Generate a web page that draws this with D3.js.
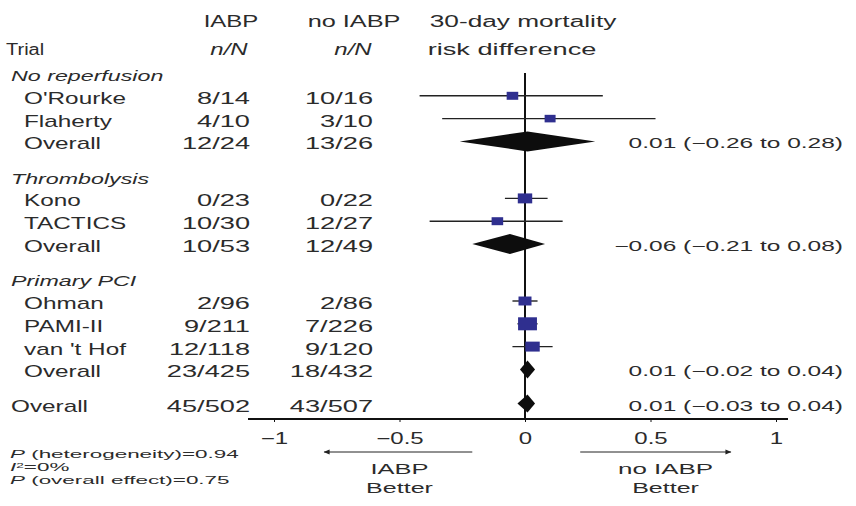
<!DOCTYPE html>
<html><head><meta charset="utf-8">
<script src="https://cdn.jsdelivr.net/npm/d3@7"></script>
<style>
html,body{margin:0;padding:0;background:#fff;}
svg text{font-family:"Liberation Sans",Arial,sans-serif;fill:#2b2b2b;}
</style></head>
<body><svg id="c" width="856" height="506"></svg>
<script>
// ---- data ----
const groupNames = ["No reperfusion", "Thrombolysis", "Primary PCI"];
const rowLabels  = ["O'Rourke", "Flaherty", "Overall", "Kono", "TACTICS", "Overall", "Ohman", "PAMI-II", "van 't Hof", "Overall", "Overall"];
const rowGroup   = [0, 0, 0, 1, 1, 1, 2, 2, 2, 2, -1];
const rowKind    = ["study", "study", "pooled", "study", "study", "pooled", "study", "study", "study", "pooled", "total"];
const iabpCounts   = ["8/14", "4/10", "12/24", "0/23", "10/30", "10/53", "2/96", "9/211", "12/118", "23/425", "45/502"];
const noIabpCounts = ["10/16", "3/10", "13/26", "0/22", "12/27", "12/49", "2/86", "7/226", "9/120", "18/432", "43/507"];
const riskDiff = [-0.05, 0.10, 0.01, 0.00, -0.11, -0.06, 0.00, 0.01, 0.03, 0.01, 0.01];
const ciLow    = [-0.42, -0.33, -0.26, -0.08, -0.38, -0.21, -0.05, -0.03, -0.05, -0.02, -0.03];
const ciHigh   = [0.31, 0.52, 0.28, 0.09, 0.15, 0.08, 0.05, 0.05, 0.11, 0.04, 0.04];
const studyWeight = [7, 4, null, 21, 7, null, 14, 43, 21, null, null];
const effectLabels = [null, null, "0.01 (−0.26 to 0.28)", null, null, "−0.06 (−0.21 to 0.08)", null, null, null, "0.01 (−0.02 to 0.04)", "0.01 (−0.03 to 0.04)"];
const tickValues = [-1, -0.5, 0, 0.5, 1];

// ---- layout ----
const svg = d3.select("#c");
const x = d3.scaleLinear().domain([-1, 1]).range([274, 776]);

// ordinal slots (group header rows + half-row gaps)
const slots = [];
let s = 0, prevGroup = null;
rowLabels.forEach((lab, i) => {
  const g = rowGroup[i];
  if (g !== prevGroup) {
    if (prevGroup !== null) s += 0.5;
    if (g >= 0) { slots.push({type: "header", g, slot: s}); s += 1; }
    prevGroup = g;
  }
  slots.push({type: "row", i, slot: s});
  s += 1;
});
const y = d3.scaleLinear().domain([0, 1]).range([75, 97.8]);

function T(parent, str, px, py, size, anchor, sx, italic) {
  const t = parent.append("text")
    .attr("transform", `translate(${px},${py}) scale(${sx},1)`)
    .attr("font-size", size)
    .attr("text-anchor", anchor)
    .text(str);
  if (italic) t.attr("font-style", "italic");
  return t;
}

// header
const hdr = svg.append("g");
T(hdr, "IABP", 231, 27, 16, "middle", 1.5);
T(hdr, "no IABP", 354, 27, 16, "middle", 1.58);
T(hdr, "30-day mortality", 523, 27, 16, "middle", 1.64);
T(hdr, "Trial", 6, 55, 16, "start", 1.25);
T(hdr, "n/N", 229, 55, 16, "middle", 1.5, true);
T(hdr, "n/N", 353, 55, 16, "middle", 1.5, true);
T(hdr, "risk difference", 512, 55, 16, "middle", 1.7);

// zero line
const yTop = 73, yAxis = 419;
svg.append("line").attr("x1", x(0)).attr("x2", x(0)).attr("y1", yTop).attr("y2", yAxis)
  .attr("stroke", "#111").attr("stroke-width", 2);

// axis
svg.append("line").attr("x1", 248).attr("x2", 788).attr("y1", yAxis).attr("y2", yAxis)
  .attr("stroke", "#111").attr("stroke-width", 2);
const ax = svg.append("g").attr("transform", `translate(0,${yAxis})`)
  .call(d3.axisBottom(x).tickValues(tickValues).tickSize(3)
    .tickFormat(d => d < 0 ? "−" + Math.abs(d) : String(d)));
ax.select(".domain").remove();
ax.selectAll("line").attr("stroke", "#111");
ax.selectAll("text").attr("font-size", 16).attr("y", 14).attr("fill", "#2b2b2b")
  .attr("font-family", "Liberation Sans, Arial, sans-serif")
  .attr("transform", "scale(1.5,1)");

const sizeScale = d3.scaleLinear().domain([0, 50]).range([7, 14]);
const rows = svg.append("g");

slots.forEach(sl => {
  const cy = y(sl.slot);
  if (sl.type === "header") {
    T(rows, groupNames[sl.g], 11, cy + 6, 15, "start", 1.55, true);
    return;
  }
  const i = sl.i;
  const kind = rowKind[i];
  const lx = kind === "total" ? 11 : 24;
  T(rows, rowLabels[i], lx, cy + 6, 16, "start", 1.52);
  T(rows, iabpCounts[i], 250, cy + 6, 16, "end", 1.7);
  T(rows, noIabpCounts[i], 373, cy + 6, 16, "end", 1.7);
  const my = cy - 2;
  if (kind === "study") {
    rows.append("line").attr("x1", x(ciLow[i])).attr("x2", x(ciHigh[i]))
      .attr("y1", my).attr("y2", my).attr("stroke", "#222").attr("stroke-width", 1.4);
    const h = sizeScale(studyWeight[i]);
    const w = h * 1.45;
    rows.append("rect").attr("x", x(riskDiff[i]) - w / 2).attr("y", my - h / 2)
      .attr("width", w).attr("height", h).attr("fill", "#2f2f8f");
  } else {
    const hh = (ciHigh[i] - ciLow[i] > 0.1) ? 10 : 9;
    const pts = [[x(ciLow[i]), my], [x(riskDiff[i]), my - hh], [x(ciHigh[i]), my], [x(riskDiff[i]), my + hh]];
    rows.append("polygon").attr("points", pts.map(p => p.join(",")).join(" ")).attr("fill", "#0d0d0d");
    T(rows, effectLabels[i], 843, cy + 5, 14, "end", 1.75);
  }
});

// direction arrows
svg.append("defs").append("marker").attr("id", "ah").attr("viewBox", "0 0 10 10")
  .attr("refX", 9).attr("refY", 5).attr("markerWidth", 9).attr("markerHeight", 6)
  .attr("orient", "auto-start-reverse").attr("markerUnits", "userSpaceOnUse")
  .append("path").attr("d", "M0,1 L10,5 L0,9 Z").attr("fill", "#222");
const ay = 452;
svg.append("line").attr("x1", x(-0.21)).attr("x2", x(-0.8)).attr("y1", ay).attr("y2", ay)
  .attr("stroke", "#222").attr("stroke-width", 1).attr("marker-end", "url(#ah)");
svg.append("line").attr("x1", x(0.22)).attr("x2", x(0.82)).attr("y1", ay).attr("y2", ay)
  .attr("stroke", "#222").attr("stroke-width", 1).attr("marker-end", "url(#ah)");
T(svg, "IABP", x(-0.5), 474, 15, "middle", 1.7);
T(svg, "Better", x(-0.5), 493, 15, "middle", 1.67);
T(svg, "no IABP", x(0.56), 474, 15, "middle", 1.73);
T(svg, "Better", x(0.56), 493, 15, "middle", 1.67);

// footnotes
const fn = svg.append("g");
const f1 = T(fn, "", 10, 458, 11.5, "start", 1.95);
f1.append("tspan").attr("font-style", "italic").text("P");
f1.append("tspan").text(" (heterogeneity)=0.94");
const f2 = T(fn, "", 10, 471, 11.5, "start", 1.95);
f2.append("tspan").attr("font-style", "italic").text("I");
f2.append("tspan").attr("font-size", 7).attr("dy", -3).text("2");
f2.append("tspan").attr("dy", 3).text("=0%");
const f3 = T(fn, "", 10, 484, 11.5, "start", 1.95);
f3.append("tspan").attr("font-style", "italic").text("P");
f3.append("tspan").text(" (overall effect)=0.75");
</script></body></html>
